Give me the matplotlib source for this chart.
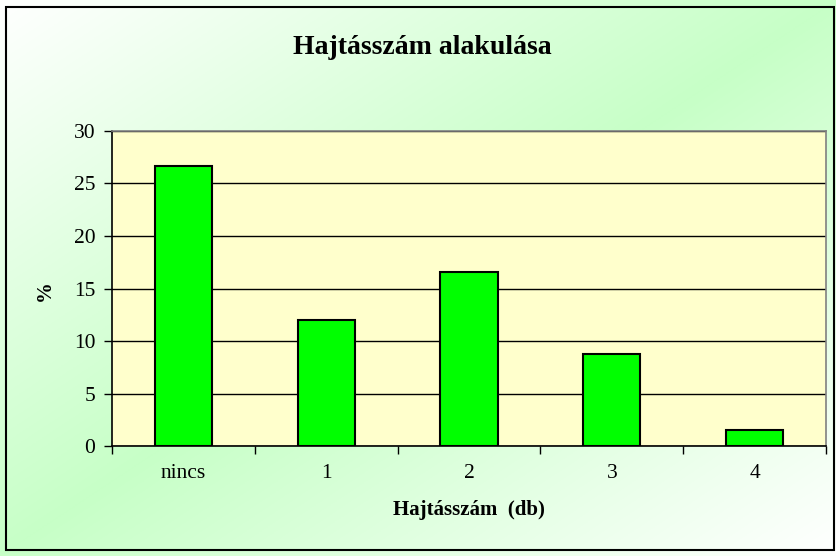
import numpy as np
import matplotlib.pyplot as plt
from matplotlib.patches import Rectangle

categories = ['nincs', '1', '2', '3', '4']
values = [26.7, 12.0, 16.6, 8.8, 1.5]
yticks = [0, 5, 10, 15, 20, 25, 30]

plt.rcParams['font.family'] = ['Liberation Serif', 'DejaVu Serif']

fig = plt.figure(figsize=(8.37, 5.56), dpi=100)

# diagonal gradient background: white at top-left / bottom-right, green along the other diagonal
bg = fig.add_axes([0, 0, 1, 1], zorder=0)
xx, yy = np.meshgrid(np.linspace(0, 1, 400), np.linspace(0, 1, 300))
t = np.abs(xx + yy - 1)  # 0 on anti-diagonal, 1 in corners
white = np.array([1.0, 1.0, 1.0])
green = np.array([0.78, 1.0, 0.78])
img = green[None, None, :] * (1 - t[..., None]) + white[None, None, :] * t[..., None]
bg.imshow(img, extent=[0, 1, 0, 1], aspect='auto', origin='upper')
bg.set_axis_off()

fig.add_artist(Rectangle((0.007, 0.011), 0.989, 0.976, transform=fig.transFigure,
                         fill=False, edgecolor='black', linewidth=1.5, zorder=10))

ax = fig.add_axes([0.1338, 0.1978, 0.853, 0.5666], zorder=1)
ax.set_facecolor('#ffffcc')
x = np.arange(len(categories))
ax.bar(x, values, width=0.4, color='#00ff00', edgecolor='black', linewidth=1.5, zorder=3)

ax.set_xlim(-0.5, len(categories) - 0.5)
ax.set_ylim(0, 30)
ax.set_yticks(yticks)
ax.yaxis.grid(True, color='black', linewidth=1)
ax.set_axisbelow(True)

ax.set_xticks(x)
ax.set_xticklabels(categories)
ax.set_xticks(np.arange(-0.5, len(categories), 1), minor=True)
ax.tick_params(axis='x', which='major', length=0, pad=13, labelsize=15.5)
ax.tick_params(axis='x', which='minor', length=6, width=1, direction='out')
ax.tick_params(axis='y', length=6, width=1, direction='out', labelsize=15.5, pad=6)

for s in ['top', 'right']:
    ax.spines[s].set_color('#808080')
    ax.spines[s].set_linewidth(1.2)
for s in ['left', 'bottom']:
    ax.spines[s].set_color('black')
    ax.spines[s].set_linewidth(1.2)

fig.text(0.505, 0.915, 'Hajtásszám alakulása', ha='center', va='center',
         fontsize=20, fontweight='bold')
fig.text(0.56, 0.083, 'Hajtásszám  (db)', ha='center', va='center',
         fontsize=15, fontweight='bold')
fig.text(0.054, 0.478, '%', ha='center', va='center', rotation=90,
         fontsize=15, fontweight='bold')

fig.savefig('out.png', dpi=100)
